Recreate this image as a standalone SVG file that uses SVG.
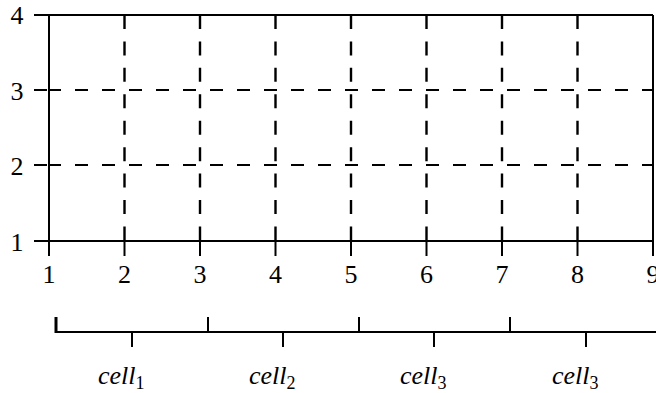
<svg xmlns="http://www.w3.org/2000/svg" width="656" height="393" viewBox="0 0 656 393">
<style>
.ax{stroke:#000;stroke-width:2;fill:none}
.vd{stroke:#000;stroke-width:2.4;fill:none;stroke-dasharray:14 12.43}
.hd{stroke:#000;stroke-width:2;fill:none;stroke-dasharray:13 14}
.num{font-family:"Liberation Serif","DejaVu Serif",serif;font-size:26px;fill:#000;text-anchor:middle}
.cell{font-family:"Liberation Serif","DejaVu Serif",serif;font-style:italic;font-size:26px;fill:#000}
.sub{font-style:normal;font-size:18px}
</style>
<rect width="656" height="393" fill="#fff"/>
<g id="grid">
  <path class="vd" d="M124.5 15V241M200 15V241M275.5 15V241M351 15V241M426.5 15V241M502 15V241M577.5 15V241"/>
  <path class="ax" d="M124.5 241V256M200 241V256M275.5 241V256M351 241V256M426.5 241V256M502 241V256M577.5 241V256"/>
  <path class="hd" d="M48 90H653M48 165H653"/>
  <path class="ax" d="M34 90H47M34 165H47"/>
</g>
<g id="axes">
  <path class="ax" d="M34 15H653M34 241H653M49 15V256M653 15V256"/>
</g>
<g id="y-labels">
  <text class="num" x="17" y="24">4</text>
  <text class="num" x="17" y="99.5">3</text>
  <text class="num" x="17" y="175">2</text>
  <text class="num" x="17" y="251">1</text>
</g>
<g id="x-labels">
  <text class="num" x="49" y="283">1</text>
  <text class="num" x="124.5" y="283">2</text>
  <text class="num" x="200" y="283">3</text>
  <text class="num" x="275.5" y="283">4</text>
  <text class="num" x="351" y="283">5</text>
  <text class="num" x="426.5" y="283">6</text>
  <text class="num" x="502" y="283">7</text>
  <text class="num" x="577.5" y="283">8</text>
  <text class="num" x="653" y="283">9</text>
</g>
<g id="cell-bar">
  <path class="ax" d="M56 332H656M208 317V332M359 317V332M510 317V332M132 332V347M283 332V347M434 332V347M586 332V347"/>
  <path class="ax" style="stroke-width:3" d="M56 317V333"/>
</g>
<g id="cell-labels">
  <text class="cell" x="98" y="384">cell<tspan class="sub" dy="5">1</tspan></text>
  <text class="cell" x="249" y="384">cell<tspan class="sub" dy="5">2</tspan></text>
  <text class="cell" x="400" y="384">cell<tspan class="sub" dy="5">3</tspan></text>
  <text class="cell" x="552" y="384">cell<tspan class="sub" dy="5">3</tspan></text>
</g>
</svg>
